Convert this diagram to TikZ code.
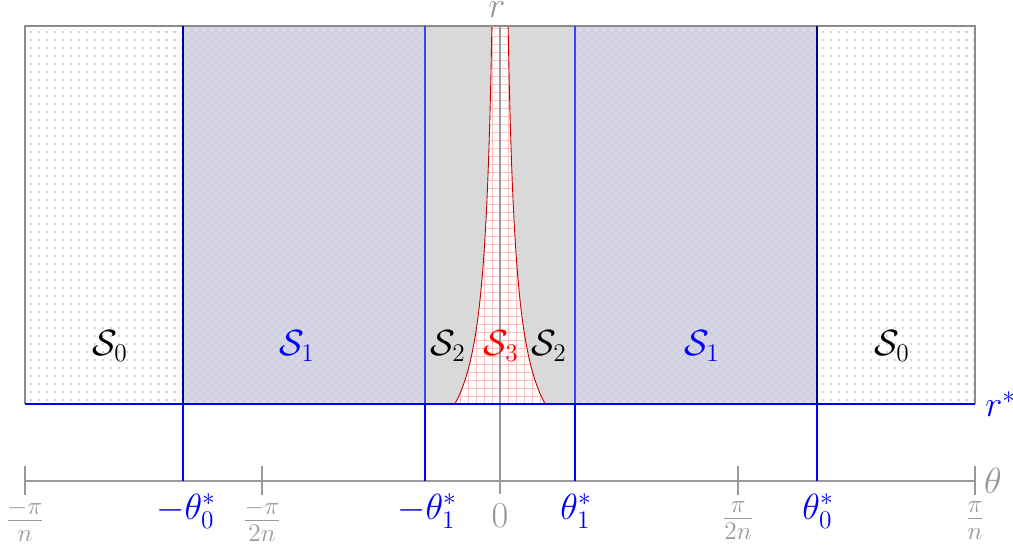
\documentclass[tikz,border=0pt]{standalone}
\begin{document}
\begin{tikzpicture}[x=0.02cm,y=-0.02cm,
  lbl/.style={font=\fontsize{19.5}{23}\selectfont, inner sep=1pt},
  slbl/.style={font=\fontsize{20.5}{24}\selectfont, inner sep=1pt},
  gr/.style={gray!80},
  axisline/.style={gray!80, line width=1.1pt},
  bl/.style={blue, line width=1.1pt},
  dotrow/.style={gray!35, line width=1.4pt, dash pattern=on 1.4pt off 3.135pt}]
\useasboundingbox (0,0) rectangle (1013,550);
% S0 dots
\foreach \xa/\xb in {25/183,817/975}{
  \begin{scope}
    \clip (\xa,26) rectangle (\xb,404);
    \foreach \y in {32,40,...,404}{
      \draw[dotrow] (\xa+5,\y) -- (\xb,\y);
    }
  \end{scope}
}
% S1 crosshatch
\foreach \xa/\xb in {183/425,575/817}{
  \begin{scope}
    \clip (\xa,26) rectangle (\xb,404);
    \fill[gray!30] (\xa,26) rectangle (\xb,404);
    \foreach \k in {-300,-292,...,1300}{
      \draw[blue!22, line width=0.4pt] (\k,26) -- ++(378,378);
      \draw[blue!22, line width=0.4pt] (\k,26) -- ++(-378,378);
    }
  \end{scope}
}
% S2
\fill[gray!30] (425,26) rectangle (575,404);
% S3
\fill[white] plot[domain=26:404,samples=40] ({500-3744/(487.2-\x)},\x) -- plot[domain=404:26,samples=40] ({500+3744/(487.2-\x)},\x) -- cycle;
\begin{scope}
  \clip plot[domain=26:404,samples=40] ({500-3744/(487.2-\x)},\x) -- plot[domain=404:26,samples=40] ({500+3744/(487.2-\x)},\x) -- cycle;
  \foreach \x in {452,460,...,548}{\draw[red!25, line width=0.4pt] (\x,26) -- (\x,404);}
  \foreach \y in {28,36,...,404}{\draw[red!25, line width=0.4pt] (450,\y) -- (550,\y);}
\end{scope}
\draw[red!75!black, line width=0.5pt] plot[domain=26:404,samples=40] ({500-3744/(487.2-\x)},\x) -- plot[domain=404:26,samples=40] ({500+3744/(487.2-\x)},\x) -- cycle;
% outer frame
\draw[gray!90, line width=0.8pt] (25,404) -- (25,26) -- (975,26) -- (975,404);
% r axis
\coordinate (rtop) at (500,26);
\coordinate (rbot) at (500,494);
\draw[gray!80, line width=1.1pt] (rtop) -- (rbot);
\node[lbl, gr, inner sep=0pt] (rlab) at (497,10) {$r$};
% theta axis
\coordinate (aL) at (25,481);
\coordinate (aR) at (975,481);
\draw[axisline] (aL) -- (aR);
\foreach \x in {25,262,738,975}{\draw[axisline] (\x,466) -- (\x,495);}
\node[lbl, gr] (thlab) at (993,481) {$\theta$};
% blue verticals
\foreach \x in {183,817}{
  \draw[bl] (\x,404) -- (\x,481);
  \draw[blue!60!black, line width=1.1pt] (\x,26) -- (\x,404);
}
\foreach \x in {425,575}{
  \draw[bl] (\x,404) -- (\x,481);
  \draw[blue!75, line width=1.1pt] (\x,26) -- (\x,404);
}
% r* line
\coordinate (rsL) at (25,404);
\coordinate (rsR) at (975,404);
\draw[bl] (rsL) -- (rsR);
\node[lbl, blue, anchor=west, inner sep=0pt] (rslab) at (985,404) {$r^*$};
% region labels
\node[slbl] (s0a) at (110,346) {$\mathcal{S}_0$};
\node[slbl, blue] (s1a) at (297,346) {$\mathcal{S}_1$};
\node[slbl] (s2a) at (448,346) {$\mathcal{S}_2$};
\node[slbl, red] (s3) at (501,346) {$\mathcal{S}_3$};
\node[slbl] (s2b) at (549,346) {$\mathcal{S}_2$};
\node[slbl, blue] (s1b) at (702,346) {$\mathcal{S}_1$};
\node[slbl] (s0b) at (892,346) {$\mathcal{S}_0$};
% axis labels
\node[lbl, gr] (m1) at (25,521) {$\frac{-\pi}{n}$};
\node[lbl, gr] (m2) at (262,521) {$\frac{-\pi}{2n}$};
\node[lbl, gr] (z) at (500,516) {$0$};
\node[lbl, gr] (p2) at (738,521) {$\frac{\pi}{2n}$};
\node[lbl, gr] (p1) at (975,521) {$\frac{\pi}{n}$};
\node[lbl, blue] (t0m) at (186,511) {$-\theta_0^*$};
\node[lbl, blue] (t1m) at (427,511) {$-\theta_1^*$};
\node[lbl, blue] (t1p) at (576,511) {$\theta_1^*$};
\node[lbl, blue] (t0p) at (818,511) {$\theta_0^*$};
\end{tikzpicture}
\end{document}
